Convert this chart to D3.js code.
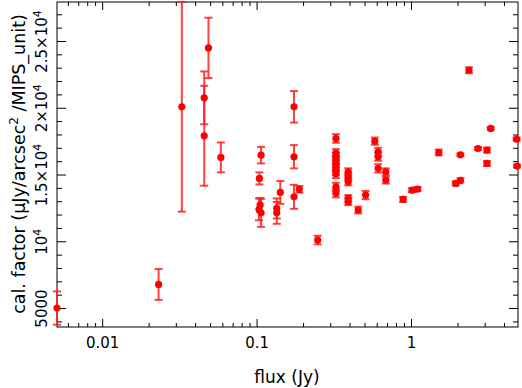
<!DOCTYPE html>
<html>
<head>
<meta charset="utf-8">
<script src="https://cdn.jsdelivr.net/npm/d3@7"></script>
<style>
  body { margin: 0; background: #fff; }
  text { font-family: "DejaVu Sans", sans-serif; fill: #000; }
</style>
</head>
<body>
<div id="chart"></div>
<script>
// flux (Jy), calibration factor and its 1-sigma error
var flux = [0.0051, 0.0232, 0.0328, 0.0488, 0.0458, 0.0458, 0.0587,
  0.1069, 0.1043, 0.1054, 0.1037, 0.1069, 0.1351, 0.1351, 0.1425,
  0.1747, 0.1747, 0.1747, 0.189, 0.2487,
  0.3265, 0.3265, 0.3265, 0.3265, 0.3265, 0.3265, 0.3265, 0.3265, 0.3265, 0.3265,
  0.3922, 0.3922, 0.3922, 0.3922, 0.3922,
  0.455, 0.508, 0.583, 0.6126, 0.6126, 0.6126, 0.687, 0.687,
  0.889, 1.016, 1.102, 1.512, 1.948, 2.089, 2.089, 2.375, 2.716,
  3.104, 3.104, 3.28, 4.83, 4.86];
var calFactor = [5000, 6770, 20070, 24480, 20740, 17900, 16280,
  16450, 14710, 12710, 12390, 12130, 12460, 12130, 13660,
  20070, 16330, 13330, 13890, 10090,
  17700, 16600, 16340, 16080, 15820, 15550, 15290, 15030, 14080, 13590,
  15200, 14830, 14450, 13210, 12960,
  12340, 13460, 17500, 16700, 16330, 15460, 15200, 14580,
  13140, 13830, 13910, 16650, 14330, 14560, 16480, 22810, 16950,
  16830, 15830, 18450, 17650, 15630];
var calErr = [1250, 1160, 7850, 2260, 1980, 3740, 1120,
  620, 450, 520, 820, 1050, 750, 820, 860,
  1180, 870, 900, 250, 320,
  320, 300, 300, 300, 300, 300, 300, 300, 300, 300,
  260, 260, 260, 250, 250,
  250, 310, 270, 300, 300, 310, 260, 260,
  190, 150, 150, 220, 150, 150, 100, 220, 110,
  190, 190, 110, 110, 110];

var xMajor = [0.01, 0.1, 1];
var xLabels = ["0.01", "0.1", "1"];
var yMajor = [5000, 10000, 15000, 20000, 25000];
var yLabels = [["5000", ""], ["10", "4"], ["1.5×10", "4"], ["2×10", "4"], ["2.5×10", "4"]];

var width = 522, height = 388;
var svg = d3.select("#chart").append("svg")
  .attr("width", width).attr("height", height);

var x = d3.scaleLog().domain([0.0051, 4.93]).range([57, 518]);
var y = d3.scaleLinear().domain([3580, 27920]).range([327, 2]);

// minor ticks
var xMinor = [];
[0.001, 0.01, 0.1, 1].forEach(function(d) {
  for (var i = 2; i <= 9; i++) {
    var v = d * i;
    if (v > x.domain()[0] && v < x.domain()[1]) xMinor.push(v);
  }
});
var yMinor = d3.range(4000, 28000, 1000).filter(function(v) { return v % 5000 != 0; });

function styleAxis(g) {
  g.select(".domain").remove();
  g.selectAll("line").attr("stroke", "#000").attr("stroke-width", 1);
}

// bottom & top
svg.append("g").attr("transform", "translate(0,327)")
  .call(d3.axisBottom(x).tickValues(xMinor).tickSize(-4).tickFormat(""))
  .call(styleAxis);
svg.append("g").attr("transform", "translate(0,327)")
  .call(d3.axisBottom(x).tickValues(xMajor).tickSize(-8).tickPadding(10.5)
    .tickFormat(function(d, i) { return xLabels[i]; }))
  .call(styleAxis)
  .selectAll("text").attr("font-size", 15).attr("font-family", "DejaVu Sans");
svg.append("g").attr("transform", "translate(0,2)")
  .call(d3.axisTop(x).tickValues(xMinor).tickSize(-4).tickFormat(""))
  .call(styleAxis);
svg.append("g").attr("transform", "translate(0,2)")
  .call(d3.axisTop(x).tickValues(xMajor).tickSize(-8).tickFormat(""))
  .call(styleAxis);

// left & right
svg.append("g").attr("transform", "translate(57,0)")
  .call(d3.axisLeft(y).tickValues(yMinor).tickSize(-5).tickFormat(""))
  .call(styleAxis);
var yl = svg.append("g").attr("transform", "translate(57,0)")
  .call(d3.axisLeft(y).tickValues(yMajor).tickSize(-9).tickFormat(""))
  .call(styleAxis);
svg.append("g").attr("transform", "translate(518,0)")
  .call(d3.axisRight(y).tickValues(yMinor).tickSize(-5).tickFormat(""))
  .call(styleAxis);
svg.append("g").attr("transform", "translate(518,0)")
  .call(d3.axisRight(y).tickValues(yMajor).tickSize(-9).tickFormat(""))
  .call(styleAxis);

// rotated y tick labels with superscripts
yl.selectAll(".tick").each(function(d, i) {
  var t = d3.select(this).append("text")
    .attr("transform", "rotate(-90)")
    .attr("x", 0).attr("y", -10.5)
    .attr("text-anchor", "middle")
    .attr("font-size", 15);
  t.append("tspan").text(yLabels[i][0]);
  if (yLabels[i][1]) {
    t.append("tspan").attr("dy", -6).attr("font-size", 11).text(yLabels[i][1]);
  }
});

// frame
svg.append("rect")
  .attr("x", x.range()[0]).attr("y", y.range()[1])
  .attr("width", x.range()[1] - x.range()[0])
  .attr("height", y.range()[0] - y.range()[1])
  .attr("fill", "none").attr("stroke", "#000").attr("stroke-width", 1);

// axis titles
svg.append("text")
  .attr("x", 287).attr("y", 383)
  .attr("text-anchor", "middle").attr("font-size", 17)
  .text("flux (Jy)");

var yt = svg.append("text")
  .attr("transform", "translate(25,164) rotate(-90)")
  .attr("text-anchor", "middle").attr("font-size", 17.5);
yt.append("tspan").text("cal. factor (μJy/arcsec");
yt.append("tspan").attr("dy", -7).attr("font-size", 12).text("2");
yt.append("tspan").attr("dy", 7).text(" /MIPS_unit)");

// error bars
var pts = flux.map(function(f, i) { return { f: f, v: calFactor[i], e: calErr[i] }; });
var eb = svg.append("g").attr("stroke", "#ff2020").attr("stroke-width", 2).attr("stroke-opacity", 0.85);
eb.selectAll("line.v").data(pts).enter().append("line")
  .attr("x1", function(d) { return x(d.f); }).attr("x2", function(d) { return x(d.f); })
  .attr("y1", function(d) { return y(d.v - d.e); }).attr("y2", function(d) { return y(d.v + d.e); });
eb.selectAll("line.lo").data(pts).enter().append("line")
  .attr("x1", function(d) { return x(d.f) - 4; }).attr("x2", function(d) { return x(d.f) + 4; })
  .attr("y1", function(d) { return y(d.v - d.e); }).attr("y2", function(d) { return y(d.v - d.e); });
eb.selectAll("line.hi").data(pts).enter().append("line")
  .attr("x1", function(d) { return x(d.f) - 4; }).attr("x2", function(d) { return x(d.f) + 4; })
  .attr("y1", function(d) { return y(d.v + d.e); }).attr("y2", function(d) { return y(d.v + d.e); });

// points
svg.append("g").selectAll("circle").data(pts).enter().append("circle")
  .attr("cx", function(d) { return x(d.f); })
  .attr("cy", function(d) { return y(d.v); })
  .attr("r", 3.6)
  .attr("fill", "#ff0000");
</script>
</body>
</html>
